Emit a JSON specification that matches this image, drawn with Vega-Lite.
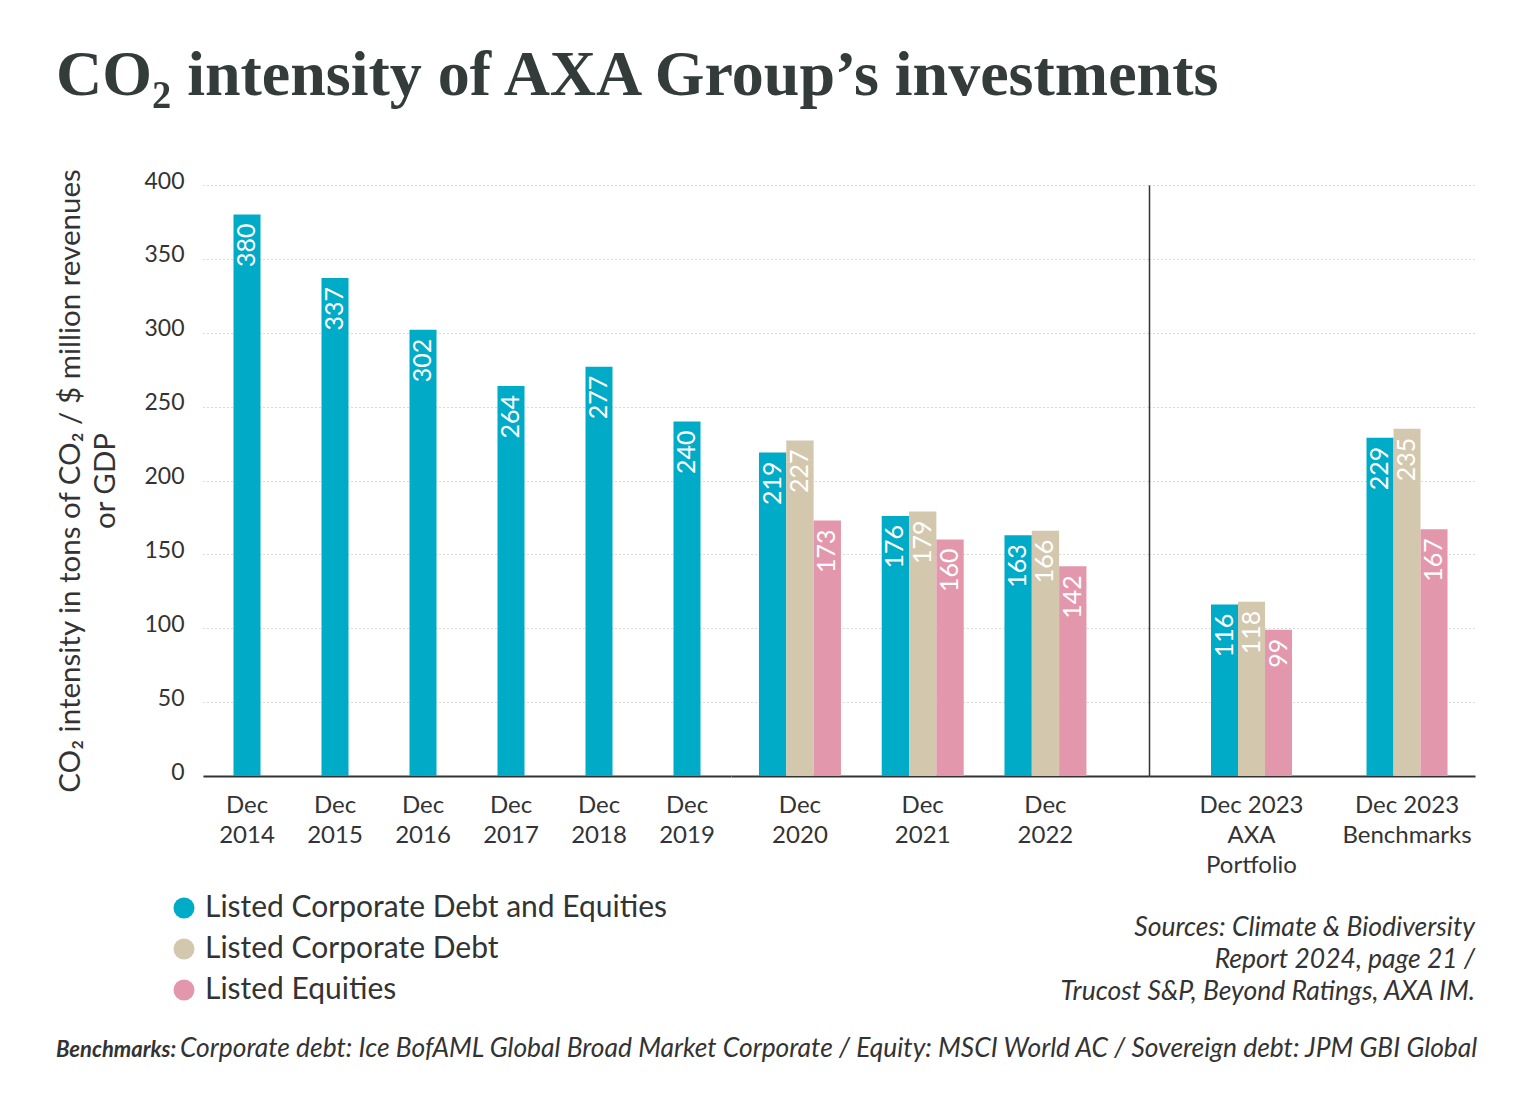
{
  "$schema": "https://vega.github.io/schema/vega-lite/v6.json",
  "background": "white",
  "padding": {"left": 55, "top": 44, "right": 20, "bottom": 10},
  "config": {
    "font": "Lato",
    "view": {"stroke": null},
    "axis": {"labelFont": "Lato", "titleFont": "Lato", "labelColor": "#333333", "titleColor": "#333333"},
    "legend": {"labelFont": "Lato"}
  },
  "title": {
    "text": "CO₂ intensity of AXA Group’s investments",
    "anchor": "start",
    "font": "Liberation Serif",
    "fontSize": 64,
    "fontWeight": "bold",
    "color": "#333b3b",
    "offset": 60
  },
  "datasets": {
    "co2": [
      {"period": "Dec 2014", "series": "Listed Corporate Debt and Equities", "value": 380},
      {"period": "Dec 2015", "series": "Listed Corporate Debt and Equities", "value": 337},
      {"period": "Dec 2016", "series": "Listed Corporate Debt and Equities", "value": 302},
      {"period": "Dec 2017", "series": "Listed Corporate Debt and Equities", "value": 264},
      {"period": "Dec 2018", "series": "Listed Corporate Debt and Equities", "value": 277},
      {"period": "Dec 2019", "series": "Listed Corporate Debt and Equities", "value": 240},
      {"period": "Dec 2020", "series": "Listed Corporate Debt and Equities", "value": 219},
      {"period": "Dec 2020", "series": "Listed Corporate Debt", "value": 227},
      {"period": "Dec 2020", "series": "Listed Equities", "value": 173},
      {"period": "Dec 2021", "series": "Listed Corporate Debt and Equities", "value": 176},
      {"period": "Dec 2021", "series": "Listed Corporate Debt", "value": 179},
      {"period": "Dec 2021", "series": "Listed Equities", "value": 160},
      {"period": "Dec 2022", "series": "Listed Corporate Debt and Equities", "value": 163},
      {"period": "Dec 2022", "series": "Listed Corporate Debt", "value": 166},
      {"period": "Dec 2022", "series": "Listed Equities", "value": 142},
      {"period": "Dec 2023 AXA Portfolio", "series": "Listed Corporate Debt and Equities", "value": 116},
      {"period": "Dec 2023 AXA Portfolio", "series": "Listed Corporate Debt", "value": 118},
      {"period": "Dec 2023 AXA Portfolio", "series": "Listed Equities", "value": 99},
      {"period": "Dec 2023 Benchmarks", "series": "Listed Corporate Debt and Equities", "value": 229},
      {"period": "Dec 2023 Benchmarks", "series": "Listed Corporate Debt", "value": 235},
      {"period": "Dec 2023 Benchmarks", "series": "Listed Equities", "value": 167}
    ]
  },
  "data": {"name": "co2"},
  "vconcat": [
    {
      "title": {
        "text": "Corporate debt: Ice BofAML Global Broad Market Corporate / Equity: MSCI World AC / Sovereign debt: JPM GBI Global",
        "orient": "bottom",
        "anchor": "start",
        "font": "Lato",
        "fontSize": 26.4,
        "fontStyle": "italic",
        "fontWeight": "normal",
        "color": "#333333",
        "offset": 0,
        "dx": 124,
        "dy": -25
      },
      "vconcat": [
        {
          "title": {
            "text": "Benchmarks:",
            "orient": "bottom",
            "anchor": "start",
            "font": "Lato",
            "fontSize": 22,
            "fontStyle": "italic",
            "fontWeight": "bold",
            "color": "#333333",
            "offset": 34
          },
          "spacing": 0,
          "bounds": "flush",
          "resolve": {
            "scale": {"x": "independent", "y": "independent", "xOffset": "independent", "color": "shared"},
            "legend": {"color": "independent"}
          },
          "hconcat": [
            {
              "width": 528,
              "height": 591,
              "transform": [{"filter": {"field": "period", "oneOf": ["Dec 2014", "Dec 2015", "Dec 2016", "Dec 2017", "Dec 2018", "Dec 2019"]}}],
              "encoding": {
                "x": {
                  "field": "period", "type": "nominal",
                  "scale": {"domain": ["Dec 2014", "Dec 2015", "Dec 2016", "Dec 2017", "Dec 2018", "Dec 2019"], "paddingInner": 0.693, "paddingOuter": 0.3465},
                  "axis": {"title": null, "labelAngle": 0, "labelExpr": "split(datum.label, ' ')", "labelFontSize": 24, "labelLineHeight": 30, "labelPadding": 17, "ticks": false, "domainColor": "#333333", "domainWidth": 2}
                },
                "y": {
                  "field": "value", "type": "quantitative",
                  "scale": {"domain": [0, 400], "nice": false},
                  "axis": {
                    "title": ["CO₂ intensity in tons of CO₂ / $ million revenues", "or GDP"],
                    "titleFontSize": 29.5, "titleFontWeight": "normal", "titlePadding": 23, "titleLineHeight": 35,
                    "values": [0, 50, 100, 150, 200, 250, 300, 350, 400],
                    "labelFontSize": 23, "labelPadding": 19, "labelOffset": -4,
                    "ticks": false, "domain": false, "grid": true, "gridColor": "#b5b5b5", "gridDash": [1, 3], "gridWidth": 1
                  }
                },
                "color": {
                  "field": "series", "type": "nominal",
                  "scale": {"domain": ["Listed Corporate Debt and Equities", "Listed Corporate Debt", "Listed Equities"], "range": ["#00abc7", "#d3c7ae", "#e397ac"]},
                  "legend": {"orient": "none", "legendX": -34, "legendY": 708, "title": null, "symbolType": "circle", "symbolSize": 440, "symbolStrokeWidth": 0, "symbolOpacity": 1, "labelFontSize": 30, "labelColor": "#333333", "labelOffset": 6, "labelLimit": 0, "rowPadding": 11}
                }
              },
              "layer": [
                {"mark": {"type": "bar"}},
                {"mark": {"type": "text", "angle": 270, "align": "right", "baseline": "middle", "dx": -9, "fontSize": 25, "font": "Lato", "color": "white"}, "encoding": {"text": {"field": "value", "type": "quantitative"}, "color": {"value": "white"}}}
              ]
            },
            {
              "width": 418,
              "height": 591,
              "transform": [{"filter": {"field": "period", "oneOf": ["Dec 2020", "Dec 2021", "Dec 2022"]}}],
              "encoding": {
                "x": {
                  "field": "period", "type": "nominal",
                  "scale": {"domain": ["Dec 2020", "Dec 2021", "Dec 2022"], "paddingInner": 0.332, "paddingOuter": 0.3687, "align": 0.309},
                  "axis": {"title": null, "labelAngle": 0, "labelExpr": "split(datum.label, ' ')", "labelFontSize": 24, "labelLineHeight": 30, "labelPadding": 17, "ticks": false, "domainColor": "#333333", "domainWidth": 2}
                },
                "xOffset": {"field": "series", "type": "nominal", "scale": {"domain": ["Listed Corporate Debt and Equities", "Listed Corporate Debt", "Listed Equities"], "paddingInner": 0, "paddingOuter": 0}},
                "y": {
                  "field": "value", "type": "quantitative",
                  "scale": {"domain": [0, 400], "nice": false},
                  "axis": {"title": null, "labels": false, "values": [0, 50, 100, 150, 200, 250, 300, 350, 400], "ticks": false, "domain": false, "grid": true, "gridColor": "#b5b5b5", "gridDash": [1, 3], "gridWidth": 1}
                },
                "color": {
                  "field": "series", "type": "nominal",
                  "scale": {"domain": ["Listed Corporate Debt and Equities", "Listed Corporate Debt", "Listed Equities"], "range": ["#00abc7", "#d3c7ae", "#e397ac"]},
                  "legend": null
                }
              },
              "layer": [
                {"mark": {"type": "bar"}},
                {"mark": {"type": "text", "angle": 270, "align": "right", "baseline": "middle", "dx": -9, "fontSize": 25, "font": "Lato", "color": "white"}, "encoding": {"text": {"field": "value", "type": "quantitative"}, "color": {"value": "white"}}}
              ]
            },
            {
              "width": 326,
              "height": 591,
              "title": {
                "text": ["Sources: Climate & Biodiversity", "Report 2024, page 21 /", "Trucost S&P, Beyond Ratings, AXA IM."],
                "orient": "bottom", "anchor": "end", "align": "right",
                "font": "Lato", "fontSize": 26.5, "fontStyle": "italic", "fontWeight": "normal", "lineHeight": 32,
                "color": "#333333", "offset": 38
              },
              "transform": [{"filter": {"field": "period", "oneOf": ["Dec 2023 AXA Portfolio", "Dec 2023 Benchmarks"]}}],
              "encoding": {
                "x": {
                  "field": "period", "type": "nominal",
                  "scale": {"domain": ["Dec 2023 AXA Portfolio", "Dec 2023 Benchmarks"], "paddingInner": 0.479, "paddingOuter": 0.2877, "align": 0.693},
                  "axis": {"title": null, "labelAngle": 0, "labelExpr": "datum.label == 'Dec 2023 AXA Portfolio' ? ['Dec 2023', 'AXA', 'Portfolio'] : ['Dec 2023', 'Benchmarks']", "labelFontSize": 24, "labelLineHeight": 30, "labelPadding": 17, "ticks": false, "domainColor": "#333333", "domainWidth": 2}
                },
                "xOffset": {"field": "series", "type": "nominal", "scale": {"domain": ["Listed Corporate Debt and Equities", "Listed Corporate Debt", "Listed Equities"], "paddingInner": 0, "paddingOuter": 0}},
                "y": {
                  "field": "value", "type": "quantitative",
                  "scale": {"domain": [0, 400], "nice": false},
                  "axis": {"title": null, "labels": false, "values": [0, 50, 100, 150, 200, 250, 300, 350, 400], "ticks": false, "domain": true, "domainColor": "#333333", "domainWidth": 1.5, "grid": true, "gridColor": "#b5b5b5", "gridDash": [1, 3], "gridWidth": 1}
                },
                "color": {
                  "field": "series", "type": "nominal",
                  "scale": {"domain": ["Listed Corporate Debt and Equities", "Listed Corporate Debt", "Listed Equities"], "range": ["#00abc7", "#d3c7ae", "#e397ac"]},
                  "legend": null
                }
              },
              "layer": [
                {"mark": {"type": "bar"}},
                {"mark": {"type": "text", "angle": 270, "align": "right", "baseline": "middle", "dx": -9, "fontSize": 25, "font": "Lato", "color": "white"}, "encoding": {"text": {"field": "value", "type": "quantitative"}, "color": {"value": "white"}}}
              ]
            }
          ]
        }
      ]
    }
  ]
}
